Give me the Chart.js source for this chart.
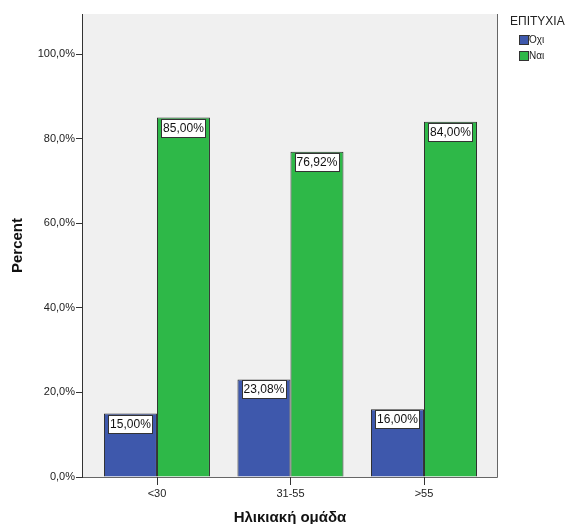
<!DOCTYPE html>
<html>
<head>
<meta charset="utf-8">
<script src="https://cdn.jsdelivr.net/npm/chart.js@4"></script>
<style>
  html, body { margin: 0; padding: 0; background: #fff; }
  #wrap { width: 566px; height: 524px; }
</style>
</head>
<body>
<div id="wrap"><canvas id="ageChart" width="566" height="524"></canvas></div>
<script>
// data
const categories = ['<30', '31-55', '>55'];
const seriesNames = ['Όχι', 'Ναι'];
const noValues = [15.00, 23.08, 16.00];
const yesValues = [85.00, 76.92, 84.00];
const yTicks = [0, 20, 40, 60, 80, 100];
const legendTitle = 'ΕΠΙΤΥΧΙΑ';
const xTitle = 'Ηλικιακή ομάδα';
const yTitle = 'Percent';

const FONT = '"Liberation Sans", Arial, sans-serif';
const fmtPct = (v, d) => v.toFixed(d).replace('.', ',') + '%';

// plot background, frame and x tick marks
const framePlugin = {
  id: 'frame',
  beforeDatasetsDraw(chart) {
    const { ctx, chartArea: a } = chart;
    ctx.save();
    ctx.fillStyle = '#f0f0f0';
    ctx.fillRect(a.left, a.top, a.right - a.left, a.bottom - a.top);
    ctx.restore();
  },
  afterDatasetsDraw(chart) {
    const { ctx, chartArea: a } = chart;
    ctx.save();
    ctx.lineWidth = 1;
    ctx.strokeStyle = '#666';
    ctx.beginPath();
    ctx.moveTo(a.right + 0.5, a.top);
    ctx.lineTo(a.right + 0.5, a.bottom + 0.5);
    ctx.lineTo(a.left, a.bottom + 0.5);
    ctx.stroke();
    ctx.strokeStyle = '#333';
    ctx.beginPath();
    ctx.moveTo(a.left - 0.5, a.top);
    ctx.lineTo(a.left - 0.5, a.bottom + 1);
    const xs = chart.scales.x;
    xs.ticks.forEach((t, i) => {
      const px = Math.round(xs.getPixelForTick(i)) + 0.5;
      ctx.moveTo(px, a.bottom);
      ctx.lineTo(px, a.bottom + 8);
    });
    ctx.stroke();
    ctx.restore();
  }
};

// boxed value labels at the top of each bar
const valueLabels = {
  id: 'valueLabels',
  afterDatasetsDraw(chart) {
    const { ctx } = chart;
    ctx.save();
    ctx.font = '12px ' + FONT;
    ctx.textAlign = 'center';
    ctx.textBaseline = 'middle';
    chart.data.datasets.forEach((ds, di) => {
      chart.getDatasetMeta(di).data.forEach((bar, i) => {
        const txt = fmtPct(ds.data[i].y, 2);
        const w = Math.round(ctx.measureText(txt).width) + 3;
        const h = 18;
        const x = Math.round(bar.x - w / 2) + 0.5;
        const y = Math.round(bar.y) + 1.5;
        ctx.fillStyle = '#fff';
        ctx.fillRect(x, y, w, h);
        ctx.strokeStyle = '#333';
        ctx.lineWidth = 1;
        ctx.strokeRect(x, y, w, h);
        ctx.fillStyle = '#111';
        ctx.fillText(txt, bar.x, y + h / 2 + 0.5);
      });
    });
    ctx.restore();
  }
};

// legend on the right
const sideLegend = {
  id: 'sideLegend',
  afterDraw(chart) {
    const { ctx } = chart;
    ctx.save();
    ctx.textBaseline = 'middle';
    ctx.textAlign = 'left';
    ctx.fillStyle = '#222';
    ctx.font = '12px ' + FONT;
    ctx.fillText(legendTitle, 510, 22);
    ctx.font = '10px ' + FONT;
    chart.data.datasets.forEach((ds, i) => {
      const y = 36 + i * 16;
      ctx.fillStyle = ds.backgroundColor;
      ctx.fillRect(520, y, 8, 8);
      ctx.strokeStyle = '#333';
      ctx.strokeRect(519.5, y - 0.5, 9, 9);
      ctx.fillStyle = '#222';
      ctx.fillText(seriesNames[i], 529, y + 4.5);
    });
    ctx.restore();
  }
};

new Chart(document.getElementById('ageChart'), {
  type: 'bar',
  data: {
    datasets: [
      {
        label: seriesNames[0],
        data: noValues.map((v, i) => ({ x: i, y: v })),
        backgroundColor: '#3e58ac',
        borderColor: '#2a2a2a',
        borderWidth: 1
      },
      {
        label: seriesNames[1],
        data: yesValues.map((v, i) => ({ x: i, y: v })),
        backgroundColor: '#2eb848',
        borderColor: '#2a2a2a',
        borderWidth: 1
      }
    ]
  },
  options: {
    responsive: false,
    animation: false,
    categoryPercentage: 0.794,
    barPercentage: 1,
    layout: { padding: { top: 14, right: 69, left: 0, bottom: 0 } },
    plugins: {
      legend: { display: false },
      tooltip: { enabled: false }
    },
    scales: {
      x: {
        type: 'linear',
        offset: false,
        min: -0.554,
        max: 2.547,
        afterBuildTicks: (s) => { s.ticks = categories.map((c, i) => ({ value: i })); },
        afterFit: (s) => { s.height = 47; },
        border: { display: false },
        grid: { display: false },
        ticks: {
          padding: 2,
          color: '#222',
          font: { family: FONT, size: 11 },
          callback: (v) => categories[v] ?? ''
        },
        title: {
          display: true,
          text: xTitle,
          color: '#111',
          font: { family: FONT, size: 15, weight: 'bold', lineHeight: 1 },
          padding: { top: 0, bottom: -1.5 }
        }
      },
      y: {
        min: 0,
        max: 109.5,
        afterBuildTicks: (s) => { s.ticks = yTicks.map(v => ({ value: v })); },
        afterFit: (s) => { s.width = 83; },
        border: { display: false },
        grid: { drawOnChartArea: false, drawTicks: true, tickLength: 7, color: '#333' },
        ticks: {
          padding: 1,
          color: '#222',
          font: { family: FONT, size: 11 },
          callback: (v) => fmtPct(v, 1)
        },
        title: {
          display: true,
          text: yTitle,
          color: '#111',
          font: { family: FONT, size: 15, weight: 'bold', lineHeight: 1 },
          padding: { top: 10, bottom: 0 }
        }
      }
    }
  },
  plugins: [framePlugin, valueLabels, sideLegend]
});
</script>
</body>
</html>
